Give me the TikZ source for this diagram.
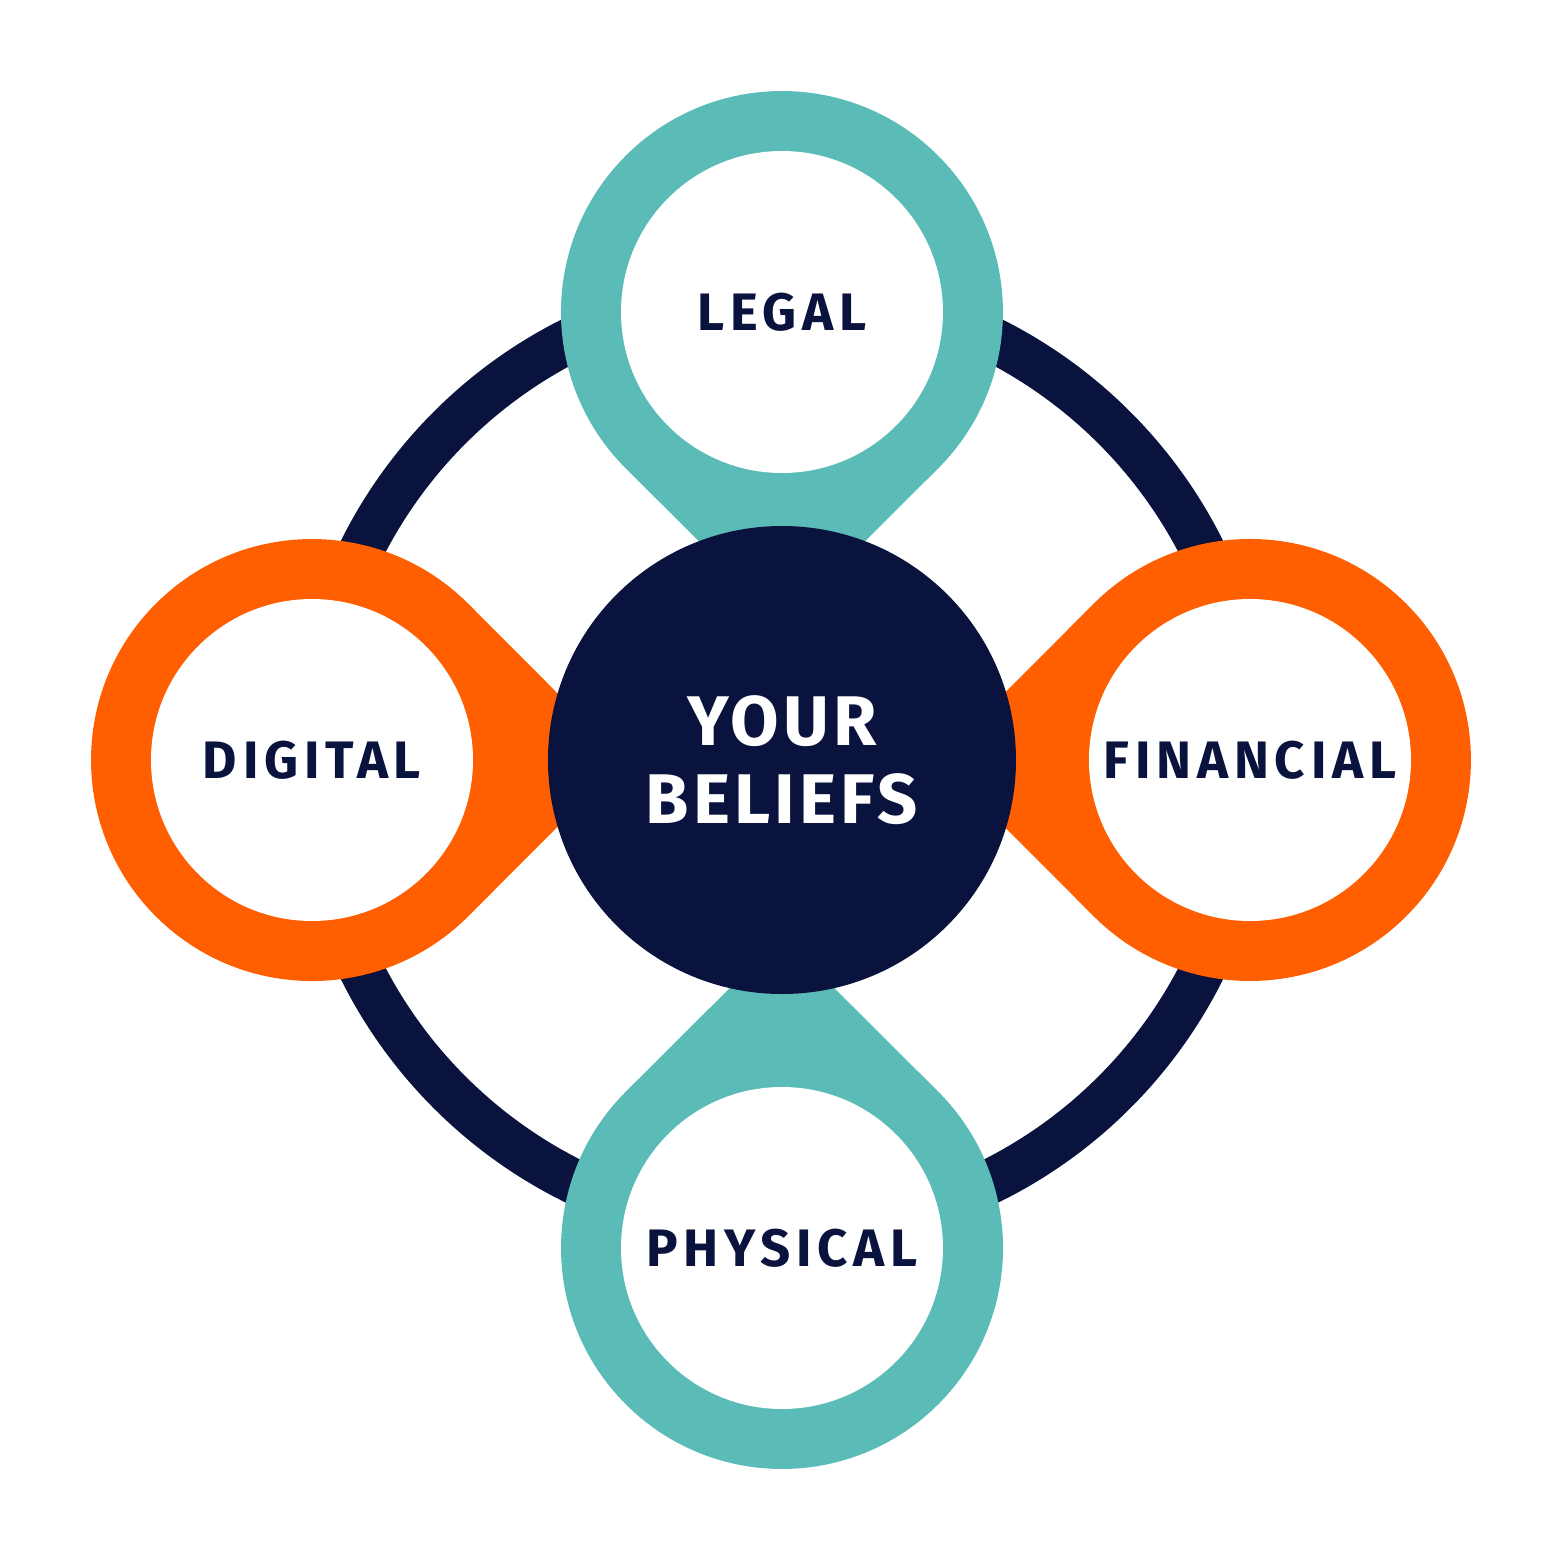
\documentclass[tikz,border=0pt]{standalone}
\usepackage{fontspec}
\setmainfont{Fira Sans}
\definecolor{navy}{HTML}{0A133D}
\definecolor{tealc}{HTML}{5BBBB6}
\definecolor{orangec}{HTML}{FF5F00}
\tikzset{
  inner/.style={circle, fill=white, minimum size=3.22cm, inner sep=0pt,
    text=navy, font=\fontsize{15}{18}\selectfont\bfseries\addfontfeatures{LetterSpace=11}},
  core/.style={circle, fill=navy, minimum size=4.68cm, inner sep=0pt, align=center,
    text=white, font=\fontsize{20}{24}\selectfont\bfseries\addfontfeatures{LetterSpace=6}}
}
\begin{document}
\begin{tikzpicture}
\useasboundingbox (-7.82,-8.03) rectangle (7.81,7.60);
% Ring
\draw[navy, line width=0.45cm] (0,0) circle (4.70);
% Teardrops
\foreach \ang/\d/\col in {90/4.48/tealc, 180/4.70/orangec, 270/4.88/tealc, 0/4.68/orangec}{
  \fill[\col, rotate=\ang] (\d-3.12,0) -- (\d-1.563,1.563)
    arc[start angle=135, end angle=-135, radius=2.21] -- cycle;
}
% Nodes
\node[core] (beliefs) at (0,0) {YOUR\\[-2pt]BELIEFS};
\node[inner] (legal) at (0,4.48) {LEGAL};
\node[inner] (digital) at (-4.70,0) {DIGITAL};
\node[inner] (financial) at (4.68,0) {FINANCIAL};
\node[inner] (physical) at (0,-4.88) {PHYSICAL};
\end{tikzpicture}
\end{document}
